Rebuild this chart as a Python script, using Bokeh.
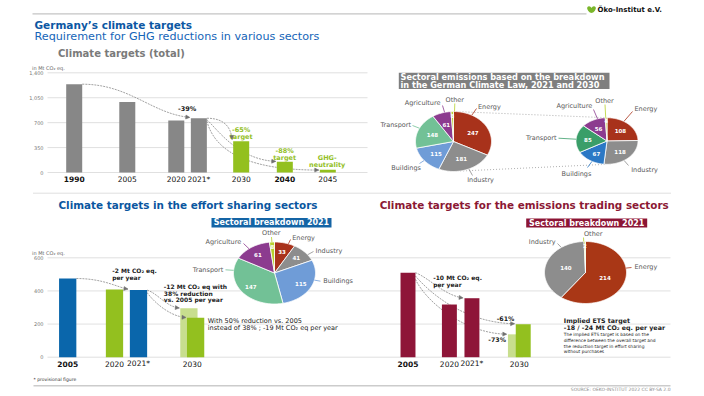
import numpy as np
from bokeh.plotting import figure
from bokeh.models import Range1d, Arrow, NormalHead
from bokeh.embed import file_html
from bokeh.resources import INLINE
from bokeh.core.properties import value

# ---------------- data ----------------
total_years = ["1990", "2005", "2020", "2021*", "2030", "2040", "2045"]
total_values = [1240, 990, 729, 762, 438, 150, 40]
total_is_target = [False, False, False, False, True, True, True]
total_ticks = [0, 350, 700, 1050, 1400]
total_tick_labels = ["0", "350", "700", "1,050", "1,400"]

sectors = ["Energy", "Industry", "Buildings", "Transport", "Agriculture", "Other"]
sect_2021 = [247, 181, 115, 148, 61, 8]
sect_2030 = [108, 118, 67, 85, 56, 4]

esr_years = ["2005", "2020", "2021*", "2030"]
esr_values = [475, 408, 405]
esr_2030_38 = 295
esr_2030_50 = 238
esr_2021 = [33, 41, 115, 147, 61, 8]

ets_years = ["2005", "2020", "2021*", "2030"]
ets_values = [510, 318, 356]
ets_2030_73 = 138
ets_2030_61 = 199
ets_sectors = ["Energy", "Industry", "Other"]
ets_2021 = [214, 140, 2]

bottom_ticks = [0, 200, 400, 600]
bottom_tick_labels = ["0", "200", "400", "600"]

# ---------------- styles ----------------
FONT = "DejaVu Sans"
GREY_BAR = "#878787"
GREEN = "#93c01f"
LIGHT_GREEN = "#c8de8e"
BLUE_BAR = "#0a66ab"
RED_BAR = "#8e1538"
GRID = "#d8d8d8"
LABEL = "#595959"
ARROW = "#8a8a8a"
PIE_COL = {"Energy": "#a8321b", "Industry": "#8d8d8d", "Buildings": "#6f9cd7",
           "Transport": "#72c196", "Agriculture": "#8c3b8f", "Other": "#b7d12c"}
PIE_COL_2030 = dict(PIE_COL, Buildings="#2b78c5", Transport="#3a9e69")
PIE_COL_ETS = dict(PIE_COL, Energy="#a93716")

W, H = 704, 396
p = figure(width=W, height=H, x_range=Range1d(0, W), y_range=Range1d(H, 0),
           output_backend="svg", toolbar_location=None,
           x_axis_location=None, y_axis_location=None, min_border=0)
p.grid.visible = False
p.outline_line_color = None
p.background_fill_color = "white"


def xmap(v0, p0, v1, p1):
    m = (v1 - v0) / (p1 - p0)
    return Range1d(start=v0 + (0 - p0) * m, end=v0 + (W - p0) * m)


def ymap(v0, p0, v1, p1):
    m = (v1 - v0) / (p0 - p1)
    return Range1d(start=v0 + (p0 - H) * m, end=v0 + (p0 - 0) * m)


p.extra_x_ranges = {"tx": xmap(0, 73.7, 11.8, 327.3),
                    "lx": xmap(0, 67.2, 1, 91.2),
                    "rx": xmap(0, 407.5, 1, 430.5)}
p.extra_y_ranges = {"ty": ymap(0, 172, 1400, 72.3),
                    "by": ymap(0, 356.7, 600, 257.3)}


def aslist(v):
    return list(v) if isinstance(v, (list, tuple, np.ndarray)) else [v]


def txt(x, y, s, size, color="#1a1a1a", bold=False, align="left", baseline="middle",
        xr="default", yr="default"):
    xs, ys, ss = aslist(x), aslist(y), aslist(s)
    n = max(len(xs), len(ys), len(ss))
    xs = xs * n if len(xs) == 1 else xs
    ys = ys * n if len(ys) == 1 else ys
    ss = ss * n if len(ss) == 1 else ss
    p.text(x=[float(v) for v in xs], y=[float(v) for v in ys], text=ss,
           text_font=value(FONT), text_font_size=f"{size}px", text_color=color,
           text_font_style="bold" if bold else "normal", text_align=align,
           text_baseline=baseline, x_range_name=xr, y_range_name=yr)


def curve(x0, y0, cx0, cy0, cx1, cy1, x1, y1, xr, yr):
    p.bezier(x0=[x0], y0=[y0], x1=[x1], y1=[y1], cx0=[cx0], cy0=[cy0], cx1=[cx1], cy1=[cy1],
             x_range_name=xr, y_range_name=yr, line_color=ARROW, line_width=0.8, line_dash="2 1")
    sx = x1 - 0.03 * (x1 - cx1)
    sy = y1 - 0.03 * (y1 - cy1)
    p.add_layout(Arrow(end=NormalHead(size=4, fill_color="#707070", line_color="#707070", line_width=0.5),
                       x_start=sx, y_start=sy, x_end=x1, y_end=y1,
                       x_range_name=xr, y_range_name=yr, line_color=None))


def draw_pie(cx, cy, rx, ry, names, vals, cols, f_in, labels):
    tot = float(sum(vals))
    edges = np.concatenate([[0.0], np.cumsum(vals)]) / tot * 2 * np.pi
    xs, ys = [], []
    for a0, a1 in zip(edges[:-1], edges[1:]):
        t = np.linspace(a0, a1, max(4, int((a1 - a0) / 0.02) + 2))
        xs.append(list(np.concatenate([[cx], cx + rx * np.sin(t)])))
        ys.append(list(np.concatenate([[cy], cy - ry * np.cos(t)])))
    p.patches(xs, ys, fill_color=[cols[n] for n in names], line_color="white", line_width=0.8)
    mids = (edges[:-1] + edges[1:]) / 2
    shares = np.array(vals) / tot
    f = np.where(shares < 0.03, 0.86, f_in)
    lx = cx + f * rx * np.sin(mids)
    ly = cy - f * ry * np.cos(mids)
    txt(list(lx), list(ly), [str(v) for v in vals], 5.5, color="white", bold=True, align="center")
    for (name, tx, ty, al, ax, ay) in labels:
        dx, dy = (ax - cx) / rx, (ay - cy) / ry
        n = np.hypot(dx, dy)
        ex, ey = cx + rx * dx / n, cy + ry * dy / n
        p.segment(x0=[ex], y0=[ey], x1=[ax], y1=[ay], line_color=cols[name], line_width=0.8)
        txt(tx, ty, name, 6.5, color=LABEL, align=al)


# ---------------- header ----------------
p.segment(x0=[32], y0=[13.3], x1=[586], y1=[13.3], line_color="#c4c4c4", line_width=1.2)
p.ellipse(x=[589.5, 592.5], y=[9, 9], width=[4.5, 4.5], height=[7, 7], angle=[0.6, -0.6],
          fill_color="#7ab62a", line_color=None)
txt(597, 9, "Öko-Institut e.V.", 7, color="#111111", bold=True)
txt(34, 24, "Germany’s climate targets", 10.5, color="#0c57a3", bold=True)
txt(34, 35.5, "Requirement for GHG reductions in various sectors", 11.2, color="#1565b8")
txt(57.5, 52.7, "Climate targets (total)", 10, color="#7a7a7a", bold=True)

# ---------------- total chart ----------------
top_slots = [0, 2.47, 4.75, 5.8, 7.77, 9.8, 11.8]
TW = 0.745
hw = TW / 2
p.segment(x0=[47] * 5, x1=[367] * 5, y0=total_ticks, y1=total_ticks, y_range_name="ty",
          line_color=GRID, line_width=0.8)
txt(43, total_ticks, total_tick_labels, 5, color="#777777", align="right", yr="ty")
txt(31.5, 67, "in Mt CO₂ eq.", 5, color="#666666")

s, v = top_slots, total_values
curve(s[0] + hw, v[0], s[0] + hw + 2.2, v[0], s[3] - hw - 1.8, v[3] + 60, s[3] - hw - 0.05, v[3] + 12, "tx", "ty")
curve(s[3] + hw, v[3], s[3] + hw + 0.9, v[3], s[4] - hw - 0.1, v[4] + 170, s[4] - hw - 0.05, v[4] + 25, "tx", "ty")
curve(s[3] + hw, v[3] - 20, s[3] + hw + 0.5, v[3] - 160, s[5] - hw - 1.8, v[5] + 30, s[5] - hw - 0.05, v[5] + 6, "tx", "ty")
curve(s[3] + hw, v[3] - 40, s[3] + hw + 0.4, v[3] * 0.35, s[4] + 0.5, v[6] - 6, s[6] - hw - 0.05, v[6] - 6, "tx", "ty")

p.vbar(x=top_slots, top=total_values, bottom=0, width=TW, x_range_name="tx", y_range_name="ty",
       fill_color=[GREEN if t else GREY_BAR for t in total_is_target], line_color=None)
for i, yl in enumerate(total_years):
    txt(top_slots[i], 178.5, yl, 7.5, color="#111111", bold=yl in ("1990", "2040"), align="center", xr="tx")

txt(186.7, 108.3, "-39%", 6.5, color="#1a1a1a", bold=True, align="center")
txt([240.7, 240.7], [129, 136.7], ["-65%", "target"], 6.5, color=GREEN, bold=True, align="center")
txt([284.2, 284.2], [150, 157.3], ["-88%", "target"], 6.5, color=GREEN, bold=True, align="center")
txt([326.7, 326.7], [157.3, 164.3], ["GHG-", "neutrality"], 6.5, color=GREEN, bold=True, align="center")

# ---------------- sector pies (top) ----------------
p.quad(left=[398.3], right=[609], top=[72.3], bottom=[88.5], fill_color="#7f7f7f", line_color=None)
txt(400, 76.6, "Sectoral emissions based on the breakdown", 8.2, color="white", bold=True)
txt(400, 84.3, "in the German Climate Law, 2021 and 2030", 8.2, color="white", bold=True)

L = (453, 141, 38, 30)
R = (606.5, 140.5, 31, 23.3)
a_l, a_r = np.radians(170), np.radians(180)
p.segment(x0=[L[0], L[0] + L[2] * np.sin(a_l)], y0=[L[1] - L[3], L[1] - L[3] * np.cos(a_l)],
          x1=[R[0], R[0] + R[2] * np.sin(a_r)], y1=[R[1] - R[3], R[1] - R[3] * np.cos(a_r)],
          line_color="#9a9a9a", line_width=0.8, line_dash="1 2")

draw_pie(*L, sectors, sect_2021, PIE_COL, 0.6, [
    ("Agriculture", 440, 102.7, "right", 442, 105),
    ("Other", 454.3, 99.3, "center", 454.3, 103),
    ("Energy", 477.5, 106, "left", 476, 108),
    ("Transport", 410.5, 124.3, "right", 412, 125),
    ("Buildings", 420.5, 167.3, "right", 419, 163),
    ("Industry", 466.7, 179.3, "left", 472, 175),
])
draw_pie(*R, sectors, sect_2030, PIE_COL_2030, 0.62, [
    ("Agriculture", 591.7, 105.7, "right", 593, 109),
    ("Other", 604, 100.7, "center", 604.5, 104),
    ("Energy", 634, 108.3, "left", 632, 111),
    ("Transport", 556, 137.7, "right", 558, 137.7),
    ("Buildings", 576, 173.3, "center", 587, 167),
    ("Industry", 630.7, 169.3, "left", 628, 165),
])

# ---------------- separators ----------------
p.segment(x0=[33], y0=[192.7], x1=[670], y1=[192.7], line_color="#b0b0b0", line_width=0.8, line_dash="1 1")
p.segment(x0=[33], y0=[385.3], x1=[670], y1=[385.3], line_color="#cccccc", line_width=1.5)

# ---------------- bottom grid ----------------
p.segment(x0=[47] * 4, x1=[670] * 4, y0=bottom_ticks, y1=bottom_ticks, y_range_name="by",
          line_color=GRID, line_width=0.8)
txt(43, bottom_ticks, bottom_tick_labels, 5, color="#777777", align="right", yr="by")
txt(31.5, 252, "in Mt CO₂ eq.", 5, color="#666666")

# ---------------- effort sharing ----------------
txt(187.5, 204, "Climate targets in the effort sharing sectors", 10.4, color="#0a56a0", bold=True, align="center")
p.quad(left=[211], right=[331], top=[217.5], bottom=[227], fill_color="#1464a5", line_color=None)
txt(271, 222.4, "Sectoral breakdown 2021", 8, color="white", bold=True, align="center")

esr_slots = [0, 1.95, 2.95]
esr_2030_slot = 5.19
EW = 0.72
eh = EW / 2
e = esr_values
curve(eh, e[0], 1.5, e[0], 2.1, e[2] + 15, esr_slots[2] - eh - 0.08, e[2] + 6, "lx", "by")
curve(esr_slots[2] + eh, e[2], 3.75, e[2] - 20, 4.1, esr_2030_38 + 10, esr_2030_slot - 0.14 - eh - 0.04, esr_2030_38 + 2, "lx", "by")
curve(esr_slots[2] + eh, e[2] - 15, 3.6, 330, 4.3, esr_2030_50 + 5, esr_2030_slot + 0.14 - eh - 0.04, esr_2030_50 + 2, "lx", "by")

p.vbar(x=esr_slots, top=esr_values, bottom=0, width=EW, x_range_name="lx", y_range_name="by",
       fill_color=[BLUE_BAR, GREEN, BLUE_BAR], line_color=None)
p.vbar(x=[esr_2030_slot - 0.14], top=[esr_2030_38], bottom=0, width=EW, x_range_name="lx", y_range_name="by",
       fill_color=LIGHT_GREEN, line_color=None)
p.vbar(x=[esr_2030_slot + 0.14], top=[esr_2030_50], bottom=0, width=EW, x_range_name="lx", y_range_name="by",
       fill_color=GREEN, line_color=None)
for i, yl in enumerate(esr_years):
    xs_ = esr_slots[i] if i < 3 else esr_2030_slot
    txt(xs_, 363.3, yl, 7.5, color="#111111", bold=(yl == "2005"), align="center", xr="lx")

txt([111.7, 111.7], [270, 277.3], ["-2 Mt CO₂ eq.", "per year"], 6, bold=True)
txt([163.3] * 3, [286, 292.7, 299.4], ["-12 Mt CO₂ eq with", "38% reduction", "vs. 2005 per year"], 6, bold=True)
txt([207.3, 207.3], [320, 327.3], ["With 50% reduction vs. 2005", "instead of 38% ; -19 Mt CO₂ eq per year"], 6.5)

draw_pie(274, 272.5, 41, 31, sectors, esr_2021, PIE_COL, 0.72, [
    ("Other", 270.8, 232.7, "center", 271, 236.5),
    ("Energy", 291.7, 237.3, "left", 290, 239),
    ("Industry", 315, 250, "left", 313, 251),
    ("Buildings", 322.7, 280.7, "left", 320, 280.7),
    ("Transport", 222.7, 269.3, "right", 225, 269.3),
    ("Agriculture", 240.7, 241.7, "right", 243, 243),
])

# ---------------- emissions trading ----------------
txt(523.7, 204, "Climate targets for the emissions trading sectors", 10.4, color="#8b1834", bold=True, align="center")
p.quad(left=[525.7], right=[646.7], top=[218], bottom=[227], fill_color="#8c1535", line_color=None)
txt(586.2, 222.6, "Sectoral breakdown 2021", 8, color="white", bold=True, align="center")

ets_slots = [0, 1.8, 2.78]
ets_2030_slot = 4.84
RW = 0.65
rh = RW / 2
t_ = ets_values
curve(rh, t_[0], 0.9, t_[0] - 30, 1.6, t_[2] + 15, ets_slots[2] - rh - 0.06, t_[2] + 2, "rx", "by")
curve(rh, t_[0] - 20, 1.0, 380, 2.5, ets_2030_61 + 8, ets_2030_slot + 0.17 - rh - 0.05, ets_2030_61 + 3, "rx", "by")
curve(rh, t_[0] - 40, 0.8, 330, 2.5, ets_2030_73 + 4, ets_2030_slot - 0.17 - rh - 0.05, ets_2030_73 + 1, "rx", "by")

p.vbar(x=ets_slots, top=ets_values, bottom=0, width=RW, x_range_name="rx", y_range_name="by",
       fill_color=RED_BAR, line_color=None)
p.vbar(x=[ets_2030_slot - 0.17], top=[ets_2030_73], bottom=0, width=RW, x_range_name="rx", y_range_name="by",
       fill_color=LIGHT_GREEN, line_color=None)
p.vbar(x=[ets_2030_slot + 0.17], top=[ets_2030_61], bottom=0, width=RW, x_range_name="rx", y_range_name="by",
       fill_color=GREEN, line_color=None)
for i, yl in enumerate(ets_years):
    xs_ = ets_slots[i] if i < 3 else ets_2030_slot
    txt(xs_, 363.3, yl, 7.5, color="#111111", bold=(yl == "2005"), align="center", xr="rx")

txt([432.7, 432.7], [277.3, 284.3], ["-10 Mt CO₂ eq.", "per year"], 6, bold=True)
txt(505, 318.3, "-61%", 6.3, bold=True, align="center")
txt(496.7, 339.3, "-73%", 6.3, bold=True, align="center")
txt([563.3, 563.3], [320, 327.3], ["Implied ETS target", "-18 / -24 Mt CO₂ eq. per year"], 6.3, bold=True)
txt([563.3] * 4, [334.3, 340, 345.7, 351.4],
    ["The implied ETS target is based on the", "difference between the overall target and",
     "the reduction target in effort sharing", "without purchases"], 4.4)

draw_pie(585, 272, 41, 31, ets_sectors, ets_2021, PIE_COL_ETS, 0.5, [
    ("Industry", 555, 241, "right", 557, 243),
    ("Other", 583.5, 233.3, "left", 583, 237),
    ("Energy", 634, 266, "left", 631, 267),
])

# ---------------- footer ----------------
txt(33, 378.7, "* provisional figure", 4.5, color="#333333")
txt(670, 389.3, "SOURCE: OEKO-INSTITUT 2022 CC BY-SA 2.0", 4.5, color="#8a8a8a", align="right")

open("out.html", "w").write(file_html(p, INLINE))
